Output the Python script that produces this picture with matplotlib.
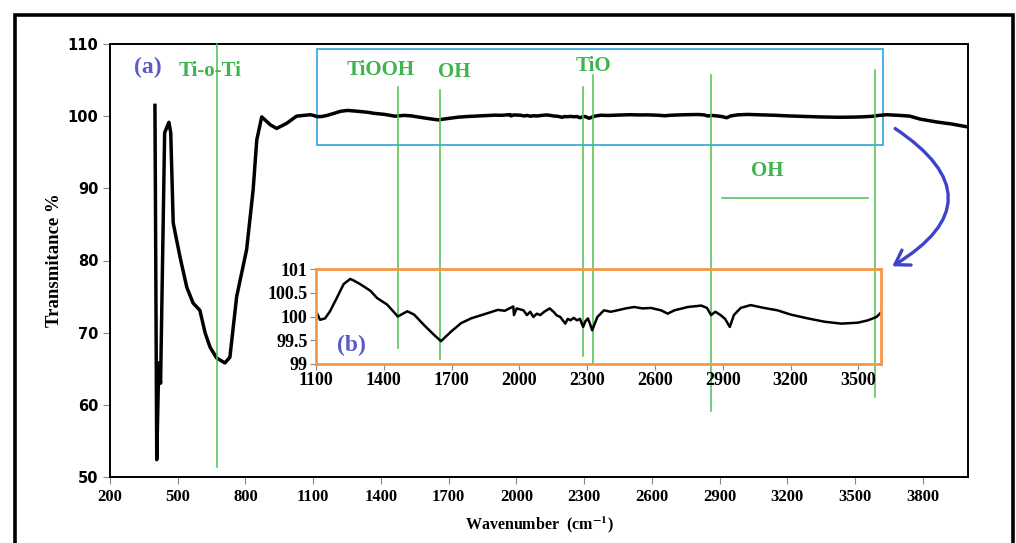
import matplotlib
matplotlib.use("Agg")
import matplotlib.pyplot as plt
from matplotlib.patches import Rectangle

plt.rcParams['mathtext.fontset'] = 'stix'

# main spectrum, low wavenumber part (400-1100)
low_wn = [399, 401, 407, 416, 424, 442, 451, 461, 469, 480, 510, 540, 568, 598, 621,
          643, 672, 709, 731, 761, 805, 834, 850, 872, 886, 910, 938, 982, 1026, 1086]
low_t = [101.5, 90.0, 52.4, 65.8, 63.0, 97.7, 98.4, 99.15, 97.7, 85.2, 80.5, 76.3, 74.1, 73.1, 70.0,
         68.0, 66.5, 65.8, 66.6, 75.0, 81.5, 89.8, 96.7, 99.9, 99.5, 98.8, 98.3, 99.0, 100.0, 100.2]

# zoomed region 1100-3600 (inset b)
mid_wn = [1100, 1118, 1140, 1162, 1192, 1222, 1251, 1266, 1296, 1341, 1370, 1415, 1462, 1504,
          1534, 1578, 1623, 1653, 1697, 1742, 1786, 1846, 1905, 1935, 1964, 1973, 1976, 1988,
          2018, 2033, 2048, 2062, 2077, 2092, 2110, 2134, 2151, 2166, 2181, 2203, 2214, 2226,
          2240, 2255, 2268, 2282, 2292, 2303, 2312, 2322, 2345, 2374, 2404, 2434, 2470, 2508,
          2545, 2582, 2627, 2656, 2686, 2745, 2805, 2830, 2848, 2867, 2890, 2910, 2931, 2949,
          2979, 3023, 3083, 3142, 3201, 3276, 3350, 3424, 3498, 3543, 3580, 3595, 3604]
mid_t = [100.11, 99.93, 99.96, 100.11, 100.39, 100.68, 100.79, 100.76, 100.68, 100.54, 100.39,
         100.25, 100.0, 100.11, 100.04, 99.82, 99.61, 99.48, 99.68, 99.86, 99.96, 100.05, 100.14,
         100.12, 100.19, 100.21, 100.03, 100.17, 100.13, 100.03, 100.10, 99.99, 100.06, 100.03,
         100.10, 100.17, 100.10, 100.02, 99.99, 99.85, 99.95, 99.92, 99.97, 99.92, 99.95, 99.78,
         99.90, 99.96, 99.85, 99.71, 99.99, 100.13, 100.10, 100.13, 100.17, 100.20, 100.17,
         100.18, 100.13, 100.06, 100.13, 100.20, 100.23, 100.18, 100.03, 100.10, 100.03, 99.95,
         99.78, 100.03, 100.18, 100.24, 100.18, 100.13, 100.04, 99.96, 99.89, 99.85, 99.87,
         99.92, 99.99, 100.06, 100.10]

# tail of main spectrum (3600-4000)
high_wn = [3640, 3700, 3743, 3787, 3860, 3930, 4000]
high_t = [100.2, 100.1, 100.0, 99.6, 99.2, 98.9, 98.5]

# band marker lines: wavenumber, y bottom, y top (main axis units)
band_wn = [674, 1475, 1661, 2293, 2337, 2860, 3587]
band_lo = [51.4, 67.9, 66.3, 66.7, 65.8, 59.1, 61.1]
band_hi = [110.0, 104.0, 103.6, 104.0, 105.7, 105.7, 106.4]

labels = ["Ti-o-Ti", "TiOOH", "OH", "TiO", "OH"]
label_x = [643, 1400, 1723, 2343, 3109]
label_y = [106.3, 106.4, 106.1, 106.9, 92.4]

main_xticks = list(range(200, 3801, 300))
main_yticks = [50, 60, 70, 80, 90, 100, 110]
inset_xticks = list(range(1100, 3501, 300))
inset_yticks = [99, 99.5, 100, 100.5, 101]
inset_yticklabels = ["99", "99.5", "100", "100.5", "101"]

green = "#4cbf4c"
txt_green = "#3db54a"
purple = "#5b5bc8"

fig = plt.figure(figsize=(10.16, 5.43), dpi=100)

# outer frame
fig.patches.append(Rectangle((15/1016, -0.05), 998/1016, 1 - 15/543 + 0.05, transform=fig.transFigure,
                             fill=False, lw=2.6, edgecolor="black"))

ax = fig.add_axes([110/1016, 1 - 477/543, 858/1016, 433/543])
wn = low_wn + mid_wn + high_wn
tt = low_t + mid_t + high_t
ax.plot(wn, tt, color="black", lw=2.5, solid_joinstyle="round")
ax.set_xlim(200, 4000)
ax.set_ylim(50, 110)
ax.set_xticks(main_xticks)
ax.set_yticks(main_yticks)
ax.tick_params(direction="out", length=5, width=0.8, color="#888888")
for lab in ax.get_xticklabels():
    lab.set_fontfamily("Liberation Serif")
    lab.set_fontweight("bold")
    lab.set_fontsize(12)
for lab in ax.get_yticklabels():
    lab.set_fontfamily("DejaVu Sans")
    lab.set_fontweight("bold")
    lab.set_fontsize(10.5)
for s in ax.spines.values():
    s.set_linewidth(1.4)
ax.set_xlabel(r"Wavenumber  (cm$^{\mathbf{-1}}$)", fontfamily="Liberation Serif",
              fontweight="bold", fontsize=11.5, labelpad=7)
ax.set_ylabel("Transmitance %", fontfamily="Liberation Serif", fontweight="bold",
              fontsize=13.5, labelpad=3)

for x, y0, y1 in zip(band_wn, band_lo, band_hi):
    ax.plot([x, x], [y0, y1], color=green, lw=1.1, clip_on=False, zorder=3)
ax.plot([2910, 3557], [88.7, 88.7], color=green, lw=1.1)

for t, x, y in zip(labels, label_x, label_y):
    ax.text(x, y, t, color=txt_green, fontfamily="Liberation Serif", fontweight="bold",
            fontsize=15, ha="center", va="center")
ax.text(368, 106.7, "(a)", color=purple, fontfamily="Liberation Serif", fontweight="bold",
        fontsize=17, ha="center", va="center")

ax.add_patch(Rectangle((1117, 96.0), 2508, 13.3, fill=False, edgecolor="#2ea3da", lw=1.2))

ax.annotate("", xy=(3654, 79.0), xytext=(3667, 98.5), annotation_clip=False,
            arrowprops=dict(arrowstyle="->,head_length=0.7,head_width=0.45", color="#3f43c9",
                            lw=2.4, mutation_scale=14, connectionstyle="arc3,rad=-0.8"))

# inset (b)
ins = fig.add_axes([316/1016, 1 - 364/543, 565/1016, 95/543])
ins.patch.set_alpha(0)
ins.plot(mid_wn, mid_t, color="black", lw=1.8)
ins.set_xlim(1100, 3600)
ins.set_ylim(99, 101)
ins.set_xticks(inset_xticks)
ins.set_yticks(inset_yticks)
ins.set_yticklabels(inset_yticklabels)
ins.tick_params(direction="out", length=4, width=0.8, color="#888888", pad=2)
for lab in ins.get_xticklabels() + ins.get_yticklabels():
    lab.set_fontfamily("Liberation Serif")
    lab.set_fontweight("bold")
    lab.set_fontsize(13)
for s in ins.spines.values():
    s.set_color("#f5974a")
    s.set_linewidth(2.0)
ins.text(1259, 99.38, "(b)", color=purple, fontfamily="Liberation Serif", fontweight="bold",
         fontsize=17, ha="center", va="center")

fig.savefig("out.png", dpi=100)
